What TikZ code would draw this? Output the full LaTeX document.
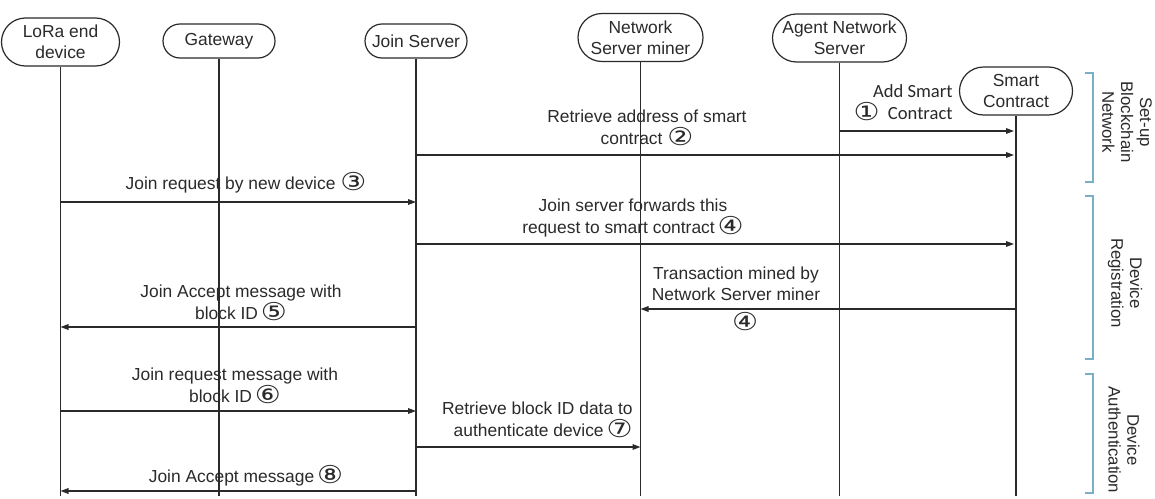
\documentclass[tikz,border=0pt]{standalone}
\usepackage{fontspec}
\setmainfont{Liberation Sans}
\newfontfamily\dejavu{DejaVu Sans}
\newfontfamily\carl{Carlito}
\usetikzlibrary{arrows.meta}
\definecolor{ink}{HTML}{2A2A2A}
\definecolor{brk}{HTML}{7AAFC6}
\newcommand{\cn}[1]{{\dejavu\fontsize{12.3}{10.5}\selectfont\raisebox{-0.6pt}{\scalebox{1.18}[1]{#1}}}}
\begin{document}
\begin{tikzpicture}[x=0.5pt,y=-0.5pt,
  every node/.style={text=ink},
  head/.style={draw=ink,line width=0.6pt,align=center,inner sep=0pt,font=\fontsize{8.7}{10.4}\selectfont},
  life/.style={draw=ink,line width=0.65pt},
  msg/.style={draw=ink,line width=0.65pt,-{Triangle[length=4pt,width=2.8pt]}},
  lbl/.style={inner sep=0pt,align=center,font=\fontsize{8.7}{10.6}\selectfont},
  brace/.style={draw=brk,line width=0.6pt},
  side/.style={inner sep=0pt,align=center,rotate=-90,font=\fontsize{8.4}{9.4}\selectfont}]
\useasboundingbox (0,0) rectangle (1155,498);
% heads
\node[head,minimum width=59pt,minimum height=24pt,rounded corners=12pt] (lora) at (60.5,42) {LoRa end\\device};
\node[head,minimum width=56pt,minimum height=17pt,rounded corners=8.5pt] (gw) at (219,41) {Gateway};
\node[head,minimum width=51pt,minimum height=17pt,rounded corners=8.5pt] (js) at (416,41) {Join Server};
\node[head,minimum width=62.5pt,minimum height=24pt,rounded corners=12pt] (nsm) at (640.5,37.5) {Network\\Server miner};
\node[head,minimum width=67pt,minimum height=24pt,rounded corners=12pt] (ans) at (839.5,38) {Agent Network\\Server};
\node[head,minimum width=56.5pt,minimum height=24pt,rounded corners=12pt] (sc) at (1016,91) {Smart\\Contract};
\coordinate (bot) at (0,496);
% lifelines
\draw[life] (lora.south) -- (lora.south |- bot);
\draw[life] (gw.south) -- (gw.south |- bot);
\draw[life] (js.south) -- (js.south |- bot);
\draw[life] (nsm.south) -- (nsm.south |- bot);
\draw[life] (ans.south) -- (ans.south |- bot);
\draw[life] (sc.south) -- (sc.south |- bot);
% messages
\draw[msg] (ans.south |- 0,131) -- ([xshift=-1pt]sc.south |- 0,131);
\node[lbl,anchor=east,font=\carl\fontsize{9.3}{11}\selectfont,align=right] (l1) at (953,103) {Add Smart\\\cn{①}\ \ Contract};
\draw[msg] (js.south |- 0,155) -- ([xshift=-1pt]sc.south |- 0,155);
\node[lbl] (l2) at (647,128) {Retrieve address of smart\\contract \cn{②}};
\draw[msg] (lora.south |- 0,202) -- (js.south |- 0,202);
\node[lbl] (l3) at (246,183) {Join request by new device \cn{③}};
\draw[msg] (js.south |- 0,244) -- ([xshift=-1pt]sc.south |- 0,244);
\node[lbl] (l4) at (633,218) {Join server forwards this\\request to smart contract\,\cn{④}};
\draw[msg] (sc.south |- 0,309) -- (nsm.south |- 0,309);
\node[lbl] (lt) at (736,284) {Transaction mined by\\Network Server miner};
\node[lbl] (lt4) at (745,322) {\cn{④}};
\draw[msg] (js.south |- 0,327) -- (lora.south |- 0,327);
\node[lbl] (l5) at (241,303) {Join Accept message with\\block ID\,\cn{⑤}};
\draw[msg] (lora.south |- 0,411) -- (js.south |- 0,411);
\node[lbl] (l6) at (235,386) {Join request message with\\block ID\,\cn{⑥}};
\draw[msg] (js.south |- 0,447) -- (nsm.south |- 0,447);
\node[lbl,anchor=east,align=right] (l7) at (633,420) {Retrieve block ID data to\\authenticate device\,\cn{⑦}};
\draw[msg] (js.south |- 0,491) -- (lora.south |- 0,491);
\node[lbl] (l8) at (246,476) {Join Accept message\,\cn{⑧}};
% phase brackets
\draw[brace] (1085,73) -- (1093,73) -- (1093,182) -- (1085,182);
\draw[brace] (1085,196) -- (1093,196) -- (1093,359) -- (1085,359);
\draw[brace] (1085,374) -- (1093,374) -- (1093,493) -- (1085,493);
\node[side] (p1) at (1127,122) {Set-up\\Blockchain\\Network};
\node[side] (p2) at (1125,283) {Device\\Registration};
\node[side] (p3) at (1124,440) {Device\\Authentication};
\end{tikzpicture}
\end{document}
